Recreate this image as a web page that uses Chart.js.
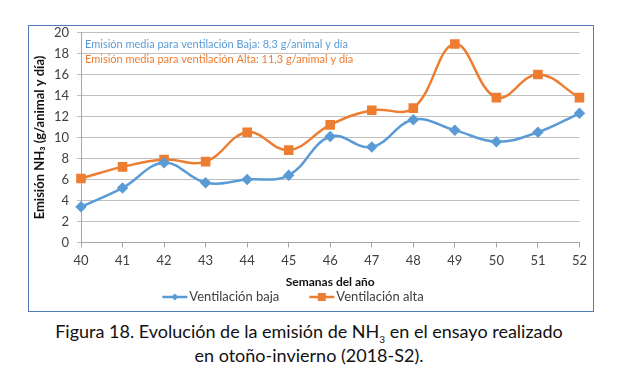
<!DOCTYPE html>
<html>
<head>
<meta charset="utf-8">
<script src="https://cdn.jsdelivr.net/npm/chart.js@4.4.0/dist/chart.umd.min.js"></script>
<style>
    body { margin: 0; background: #fff; width: 624px; height: 387px; position: relative; font-family: Lato, 'Open Sans', sans-serif; }
    #frame { position: absolute; left: 28px; top: 25px; width: 566px; height: 287px; border: 1.5px solid #4f7cb8; box-sizing: border-box; }
    #caption { position: absolute; left: 0; top: 319px; width: 618px; text-align: center; font-size: 18px; line-height: 24px; color: #111; }
    #caption sub { font-size: 10px; vertical-align: baseline; position: relative; top: 5px; line-height: 0; }
</style>
</head>
<body>
<div id="frame"><canvas id="chart"></canvas></div>
<div id="caption">Figura 18. Evolución de la emisión de NH<sub>3</sub> en el ensayo realizado<br>en otoño-invierno (2018-S2).</div>
<script>
    // weeks of the year
    const weeks = ['40', '41', '42', '43', '44', '45', '46', '47', '48', '49', '50', '51', '52'];
    const ventBaja = [3.4, 5.2, 7.6, 5.7, 6.0, 6.4, 10.1, 9.1, 11.7, 10.7, 9.6, 10.5, 12.3];
    const ventAlta = [6.1, 7.2, 7.9, 7.7, 10.5, 8.8, 11.2, 12.6, 12.8, 18.9, 13.8, 16.0, 13.8];
    const seriesNames = ['Ventilación baja', 'Ventilación alta'];
    const notes = [
        'Emisión media para ventilación Baja: 8,3 g/animal y día',
        'Emisión media para ventilación Alta: 11,3 g/animal y día'
    ];

    const blue = '#5b9bd5';
    const orange = '#ed7d31';

    // notes on the plot and the legend below the axis title
    const extras = {
        id: 'extras',
        afterDraw(chart) {
            const ctx = chart.ctx;
            const area = chart.chartArea;
            ctx.save();
            ctx.textBaseline = 'middle';
            ctx.textAlign = 'left';
            ctx.font = '11px Lato';
            ctx.fillStyle = blue;
            ctx.fillText(notes[0], area.left + 4, area.top + 12);
            ctx.fillStyle = orange;
            ctx.fillText(notes[1], area.left + 4, area.top + 27);

            // legend
            ctx.font = '13px Lato';
            const lineLen = 25, gap = 2, spacing = 30;
            const colors = [blue, orange];
            const widths = seriesNames.map(n => ctx.measureText(n).width);
            const total = widths[0] + widths[1] + 2 * (lineLen + gap) + spacing;
            let x = 264 - total / 2;
            const y = 271;
            seriesNames.forEach((name, i) => {
                ctx.strokeStyle = colors[i];
                ctx.lineWidth = 2.5;
                ctx.beginPath();
                ctx.moveTo(x, y);
                ctx.lineTo(x + lineLen, y);
                ctx.stroke();
                ctx.fillStyle = colors[i];
                const mx = x + lineLen / 2;
                if (i === 0) {
                    ctx.beginPath();
                    ctx.moveTo(mx, y - 3.5);
                    ctx.lineTo(mx + 3.5, y);
                    ctx.lineTo(mx, y + 3.5);
                    ctx.lineTo(mx - 3.5, y);
                    ctx.closePath();
                    ctx.fill();
                } else {
                    ctx.fillRect(mx - 4, y - 4, 8, 8);
                }
                ctx.fillStyle = '#404040';
                ctx.fillText(name, x + lineLen + gap, y);
                x += lineLen + gap + widths[i] + spacing;
            });
            ctx.restore();
        }
    };

    new Chart(document.getElementById('chart'), {
        type: 'line',
        data: {
            labels: weeks,
            datasets: [
                {
                    label: seriesNames[0],
                    data: ventBaja,
                    borderColor: blue,
                    backgroundColor: blue,
                    borderWidth: 2.5,
                    pointStyle: 'rectRot',
                    pointRadius: 4,
                    tension: 0.4
                },
                {
                    label: seriesNames[1],
                    data: ventAlta,
                    borderColor: orange,
                    backgroundColor: orange,
                    borderWidth: 2.5,
                    pointStyle: 'rect',
                    pointRadius: 5,
                    tension: 0.4
                }
            ]
        },
        options: {
            responsive: true,
            maintainAspectRatio: false,
            animation: false,
            layout: {
                autoPadding: false,
                padding: { left: 0, right: 6, top: 0, bottom: 22 }
            },
            scales: {
                x: {
                    offset: false,
                    afterFit: function(scale) { scale.height = 46.5; },
                    grid: {
                        display: true,
                        drawOnChartArea: false,
                        tickLength: 5,
                        color: '#a6a6a6'
                    },
                    border: { color: '#a6a6a6', width: 1 },
                    ticks: {
                        color: '#404040',
                        font: { family: 'Lato', size: 13 },
                        padding: 6,
                        maxRotation: 0
                    },
                    title: {
                        display: true,
                        text: 'Semanas del año',
                        color: '#111',
                        font: { family: 'Lato', size: 12, weight: 'bold' },
                        padding: 0
                    }
                },
                y: {
                    min: 0,
                    max: 20,
                    afterFit: function(scale) {
                        scale.width = 52;
                        scale.paddingTop = 6.5;
                    },
                    grid: {
                        color: '#bfbfbf',
                        tickLength: 4
                    },
                    border: { color: '#a6a6a6', width: 1 },
                    ticks: {
                        stepSize: 2,
                        color: '#404040',
                        font: { family: 'Lato', size: 13 },
                        padding: 8
                    },
                    title: {
                        display: true,
                        text: 'Emisión NH₃ (g/animal y día)',
                        color: '#111',
                        font: { family: 'Lato', size: 13, weight: 'bold' },
                        padding: { top: 3, bottom: 0 }
                    }
                }
            },
            plugins: {
                legend: { display: false },
                tooltip: { enabled: false }
            }
        },
        plugins: [extras]
    });
</script>
</body>
</html>
